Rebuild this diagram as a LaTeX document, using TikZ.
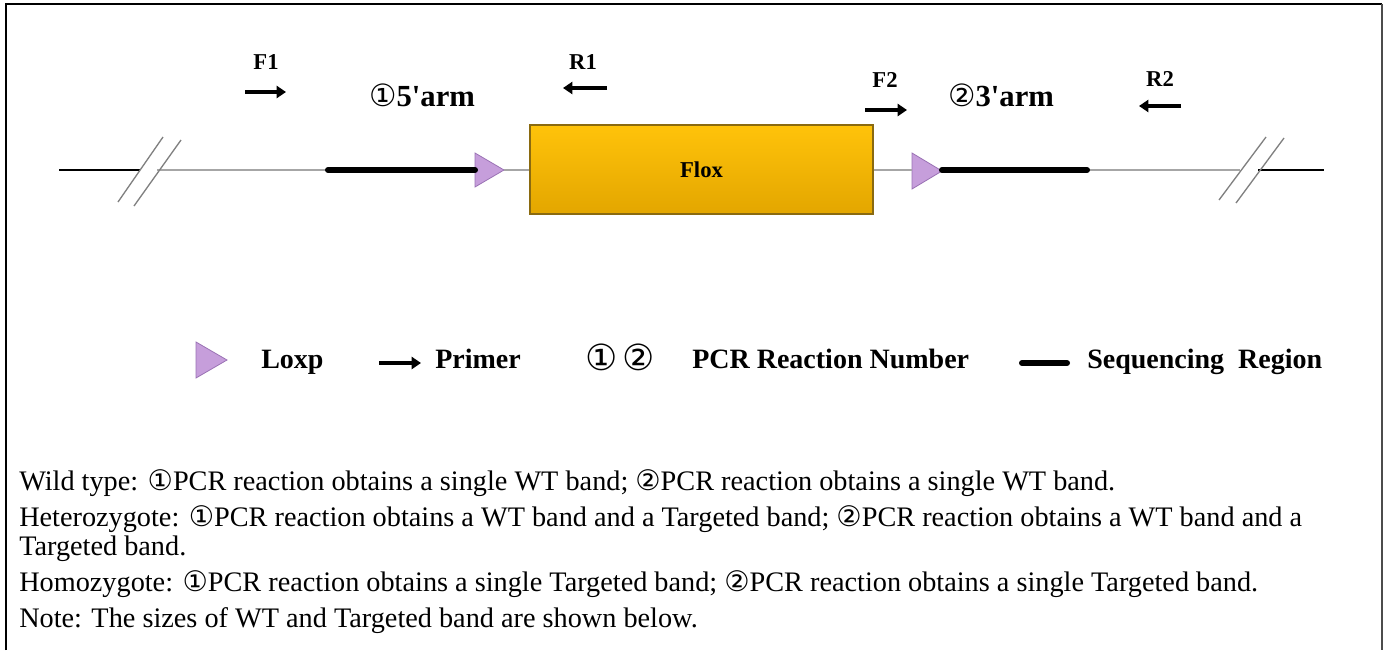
\documentclass[tikz,border=0pt]{standalone}
\usepackage{fontspec}
\setmainfont{Liberation Serif}
\newfontfamily\circfont{DejaVu Sans}
\newfontfamily\aposfont{Liberation Serif}
\usetikzlibrary{arrows.meta,shadings}
\definecolor{loxfill}{HTML}{C69EDB}
\definecolor{loxdraw}{HTML}{9A72B4}
\definecolor{boxtop}{HTML}{FFC30A}
\definecolor{boxbot}{HTML}{E3A600}
\definecolor{boxline}{HTML}{8A6A10}
\definecolor{dnagray}{HTML}{A6A6A6}
\tikzset{
  dna/.style={draw=dnagray,line width=2.2pt},
  endline/.style={draw=black,line width=1.2pt},
  seqreg/.style={draw=black,line width=4.5pt,line cap=round},
  breakmark/.style={draw=gray,line width=1pt},
  loxp/.style={fill=loxfill,draw=loxdraw,line width=0.6pt},
  primer/.style={draw=black,line width=2.4pt,-{Triangle[length=7pt,width=9pt]}},
  plabel/.style={font=\fontsize{17}{17}\selectfont\bfseries,inner sep=0pt},
  armlabel/.style={font=\fontsize{23}{23}\selectfont\bfseries,inner sep=0pt},
  leglabel/.style={font=\fontsize{21}{21}\selectfont\bfseries,inner sep=0pt,anchor=base west},
  bodytext/.style={font=\fontsize{21.2}{21.2}\selectfont,inner sep=0pt,anchor=base west},
}
\newcommand\cn[1]{{\circfont\mdseries #1}}
\newcommand\apos{{\aposfont\bfseries '}}
\begin{document}
\begin{tikzpicture}[x=0.75pt,y=-0.75pt]
\useasboundingbox (0,0) rectangle (1387,650);
% frame
\draw[line width=1.5pt] (6,650) -- (6,4) -- (1382,4);
\draw[line width=1.8pt,draw=black!70] (1382,4) -- (1382,650);

% coordinates of the gene line
\coordinate (l0) at (59,170);
\coordinate (l1) at (140,170);
\coordinate (l2) at (157,170);
\coordinate (s1) at (328,170);
\coordinate (s1e) at (475,170);
\coordinate (r0) at (1240,170);
\coordinate (r1) at (1258,170);
\coordinate (r2) at (1324,170);
\coordinate (s2) at (942,170);
\coordinate (s2e) at (1087,170);

% flox box
\node[draw=boxline,line width=0.8pt,top color=boxtop,bottom color=boxbot,
      minimum width=343*0.75pt,minimum height=89*0.75pt,inner sep=0pt,
      font=\fontsize{17}{17}\selectfont\bfseries] (flox) at (701.5,169.5) {Flox};

% loxP triangles
\path[loxp] (475,153) -- (504,170) -- (475,187) -- cycle;
\coordinate (lox1) at (504,170);
\path[loxp] (912,153) -- (942,171) -- (912,189) -- cycle;
\coordinate (lox2) at (912,170);

% DNA lines
\draw[endline] (l0) -- (l1);
\draw[dna] (l2) -- (s1);
\draw[dna] (lox1) -- (flox.west |- lox1);
\draw[dna] (flox.east |- lox2) -- (lox2);
\draw[dna] (s2e) -- (r0);
\draw[endline] (r1) -- (r2);
\draw[seqreg] (s1) -- (s1e);
\draw[seqreg] (s2) -- (s2e);

% break marks
\draw[breakmark] (118,202) -- (163,137);
\draw[breakmark] (134,206) -- (181,140);
\draw[breakmark] (1219,200) -- (1266,137);
\draw[breakmark] (1236,203) -- (1284,138);

% primers
\coordinate (f1a) at (245,92);  \coordinate (f1b) at (286,92);
\coordinate (r1a) at (607,88);  \coordinate (r1b) at (563,88);
\coordinate (f2a) at (865,110); \coordinate (f2b) at (907,110);
\coordinate (r2a) at (1181,106);\coordinate (r2b) at (1139,106);
\draw[primer] (f1a) -- (f1b);
\draw[primer] (r1a) -- (r1b);
\draw[primer] (f2a) -- (f2b);
\draw[primer] (r2a) -- (r2b);
\node[plabel] (F1) at (266,62) {F1};
\node[plabel] (R1) at (583,62) {R1};
\node[plabel] (F2) at (885,80) {F2};
\node[plabel] (R2) at (1160,79) {R2};
\node[armlabel] (arm5) at (422,95) {\cn{①}5\apos arm};
\node[armlabel] (arm3) at (1001,95) {\cn{②}3\apos arm};

% legend
\path[loxp] (196,342) -- (227,360) -- (196,378) -- cycle;
\node[leglabel] (lg1) at (261,368) {Loxp};
\coordinate (lga) at (379,363); \coordinate (lgb) at (421,363);
\draw[primer] (lga) -- (lgb);
\node[leglabel] (lg2) at (435,368) {Primer};
\node[leglabel] (lg3) at (585,370) {\fontsize{27}{27}\selectfont\cn{①}\hspace{4pt}\cn{②}};
\node[leglabel] (lg4) at (692,368) {PCR Reaction Number};
\coordinate (lgc) at (1022,363); \coordinate (lgd) at (1067,363);
\draw[seqreg] (lgc) -- (lgd);
\node[leglabel] (lg5) at (1087,368) {Sequencing\ \ Region};

% body text
\node[bodytext] (t1) at (19,490) {Wild type: \cn{①}PCR reaction obtains a single WT band; \cn{②}PCR reaction obtains a single WT band.};
\node[bodytext] (t2) at (19,526) {Heterozygote: \cn{①}PCR reaction obtains a WT band and a Targeted band; \cn{②}PCR reaction obtains a WT band and a};
\node[bodytext] (t3) at (19,555) {Targeted band.};
\node[bodytext] (t4) at (19,591) {Homozygote: \cn{①}PCR reaction obtains a single Targeted band; \cn{②}PCR reaction obtains a single Targeted band.};
\node[bodytext] (t5) at (19,627) {Note: The sizes of WT and Targeted band are shown below.};
\end{tikzpicture}
\end{document}
